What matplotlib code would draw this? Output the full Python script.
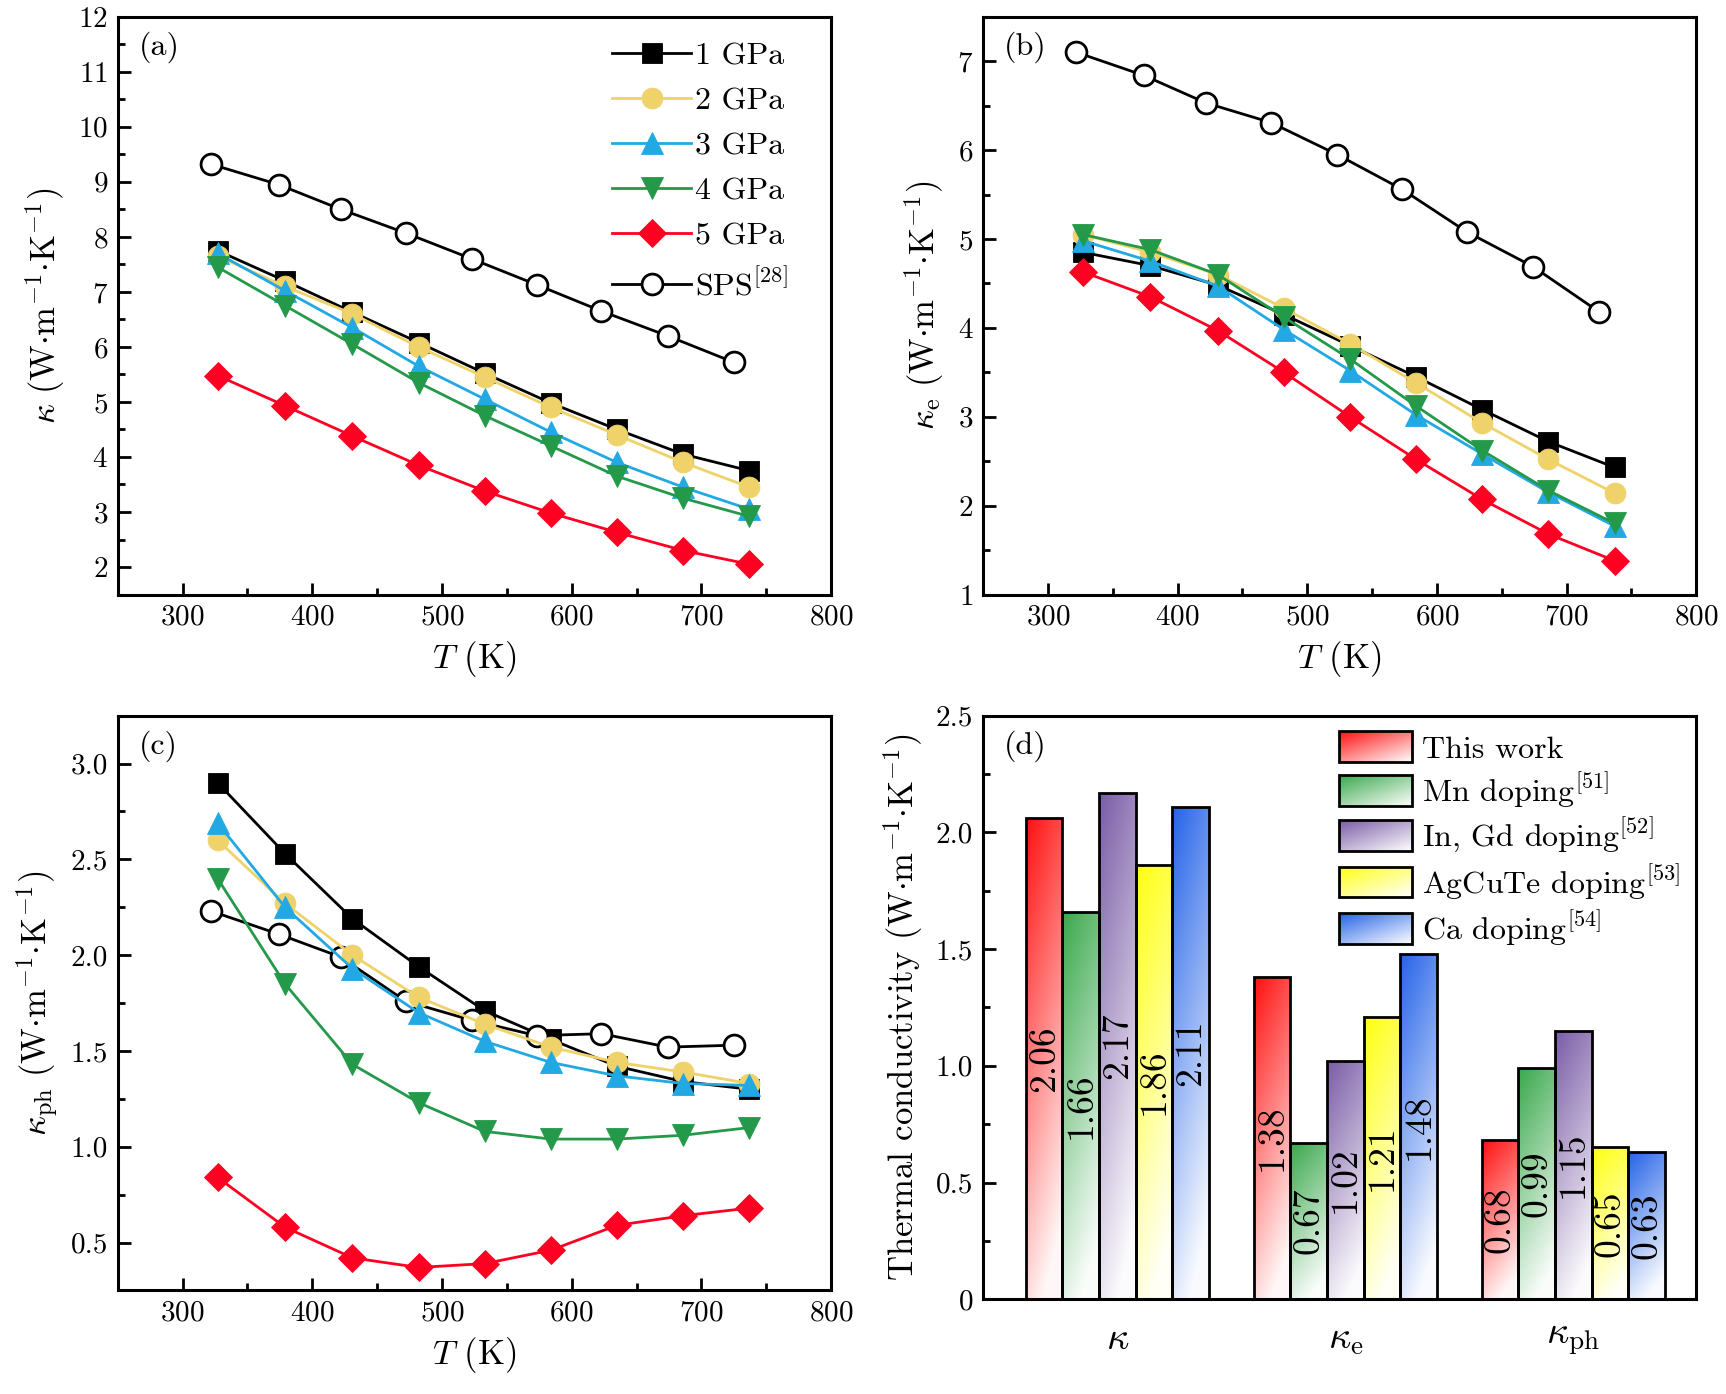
import numpy as np
import matplotlib
matplotlib.use("Agg")
import matplotlib.pyplot as plt
from matplotlib.legend_handler import HandlerBase
from matplotlib.image import BboxImage
from matplotlib.transforms import Bbox, TransformedBbox
from matplotlib.patches import Rectangle
from matplotlib.ticker import MultipleLocator, FuncFormatter

plt.rcParams["font.family"] = "serif"
plt.rcParams["font.serif"] = ["cmr10", "DejaVu Serif"]
plt.rcParams["mathtext.fontset"] = "cm"
plt.rcParams["axes.formatter.use_mathtext"] = True
plt.rcParams["axes.unicode_minus"] = False

# temperatures (K)
T_hp = [327, 379, 431, 482, 533, 584, 635, 686, 737]
T_sps = [322, 374, 422, 472, 523, 573, 623, 674, 725]

# (a) total kappa
ka_1 = [7.75, 7.2, 6.63, 6.08, 5.52, 4.98, 4.5, 4.05, 3.75]
ka_2 = [7.65, 7.1, 6.6, 6.0, 5.45, 4.9, 4.4, 3.9, 3.45]
ka_3 = [7.7, 7.02, 6.35, 5.65, 5.05, 4.45, 3.9, 3.45, 3.05]
ka_4 = [7.45, 6.75, 6.05, 5.35, 4.75, 4.2, 3.65, 3.25, 2.92]
ka_5 = [5.48, 4.93, 4.38, 3.85, 3.38, 2.98, 2.63, 2.3, 2.05]
ka_sps = [9.32, 8.95, 8.5, 8.07, 7.6, 7.13, 6.65, 6.2, 5.72]

# (b) electronic kappa
kb_1 = [4.85, 4.7, 4.48, 4.15, 3.8, 3.45, 3.08, 2.72, 2.43]
kb_2 = [5.05, 4.85, 4.6, 4.22, 3.82, 3.38, 2.93, 2.52, 2.14]
kb_3 = [4.98, 4.75, 4.47, 3.98, 3.52, 3.02, 2.58, 2.15, 1.77]
kb_4 = [5.05, 4.88, 4.6, 4.12, 3.65, 3.12, 2.62, 2.17, 1.8]
kb_5 = [4.63, 4.35, 3.97, 3.5, 3.0, 2.52, 2.07, 1.68, 1.38]
kb_sps = [7.1, 6.84, 6.53, 6.31, 5.95, 5.56, 5.08, 4.69, 4.18]

# (c) lattice kappa
kc_1 = [2.9, 2.53, 2.19, 1.94, 1.71, 1.56, 1.42, 1.34, 1.3]
kc_2 = [2.6, 2.27, 2.0, 1.78, 1.64, 1.52, 1.44, 1.39, 1.33]
kc_3 = [2.69, 2.25, 1.93, 1.7, 1.55, 1.44, 1.37, 1.33, 1.32]
kc_4 = [2.4, 1.85, 1.43, 1.23, 1.08, 1.04, 1.04, 1.06, 1.1]
kc_5 = [0.84, 0.58, 0.42, 0.37, 0.39, 0.46, 0.59, 0.64, 0.68]
kc_sps = [2.23, 2.11, 1.99, 1.76, 1.66, 1.58, 1.59, 1.52, 1.53]

# (d) comparison
groups = [r"$\kappa$", r"$\kappa_{\rm e}$", r"$\kappa_{\rm ph}$"]
works = ["This work", r"Mn doping$^{[51]}$", r"In, Gd doping$^{[52]}$",
         r"AgCuTe doping$^{[53]}$", r"Ca doping$^{[54]}$"]
vals_this = [2.06, 1.38, 0.68]
vals_mn = [1.66, 0.67, 0.99]
vals_ingd = [2.17, 1.02, 1.15]
vals_agcute = [1.86, 1.21, 0.65]
vals_ca = [2.11, 1.48, 0.63]

labels_p = ["1 GPa", "2 GPa", "3 GPa", "4 GPa", "5 GPa", r"SPS$^{[28]}$"]
colors_p = ["black", "#EFD26A", "#22A8E2", "#24994A", "#FF0022", "black"]
markers_p = ["s", "o", "^", "v", "D", "o"]
bar_colors = ["#FF1010", "#3AA84C", "#7A5CA6", "#FFFF10", "#2563E8"]

fig = plt.figure(figsize=(8.63, 6.97), dpi=200)
ax_a = fig.add_axes([0.0682, 0.5735, 0.4133, 0.4145])
ax_b = fig.add_axes([0.5695, 0.5735, 0.4133, 0.4145])
ax_c = fig.add_axes([0.0682, 0.0743, 0.4133, 0.4123])
ax_d = fig.add_axes([0.5695, 0.068, 0.4133, 0.4186])

lab_fs = 12.5
tick_fs = 10.5


def style(ax):
    ax.tick_params(which="both", direction="in", top=False, right=False,
                   labelsize=tick_fs, width=1.0)
    ax.tick_params(which="major", length=4.5)
    ax.tick_params(which="minor", length=2.5)
    for s in ax.spines.values():
        s.set_linewidth(1.1)


unit = r"\ (\mathrm{W{\cdot}m^{-1}{\cdot}K^{-1}})$"
msizes = {"s": 7.0, "o": 7.5, "^": 8.0, "v": 8.0, "D": 7.0}


def line_panel(ax, series, ylim, ymaj, ymin, ylabel, tag):
    for i, ys in enumerate(series):
        xs = T_sps if i == 5 else T_hp
        mfc = "white" if i == 5 else colors_p[i]
        ms = 7.5 if i == 5 else msizes[markers_p[i]]
        ax.plot(xs, ys, color=colors_p[i], marker=markers_p[i], ms=ms,
                mfc=mfc, mec=colors_p[i], mew=1.0 if i == 5 else 0.3,
                lw=1.0, label=labels_p[i], zorder=3 + i % 5)
    ax.set_xlim(250, 800)
    ax.set_ylim(*ylim)
    ax.xaxis.set_major_locator(MultipleLocator(100))
    ax.xaxis.set_minor_locator(MultipleLocator(50))
    ax.yaxis.set_major_locator(MultipleLocator(ymaj))
    ax.yaxis.set_minor_locator(MultipleLocator(ymin))
    ax.set_xlabel(r"$T$ (K)", fontsize=lab_fs, labelpad=3)
    ax.set_ylabel(ylabel, fontsize=lab_fs, labelpad=4)
    ax.text(0.03, 0.975, tag, transform=ax.transAxes, ha="left", va="top",
            fontsize=11.5)
    style(ax)


line_panel(ax_a, [ka_1, ka_2, ka_3, ka_4, ka_5, ka_sps], (1.5, 12), 1, 0.5,
           r"$\kappa" + unit, "(a)")
ax_a.legend(loc="upper right", frameon=False, fontsize=11.5, handlelength=2.5,
            handletextpad=0.1, labelspacing=0.52, borderaxespad=0.3,
            bbox_to_anchor=(0.97, 0.995))

line_panel(ax_b, [kb_1, kb_2, kb_3, kb_4, kb_5, kb_sps], (1, 7.5), 1, 0.5,
           r"$\kappa_{\rm e}" + unit, "(b)")

line_panel(ax_c, [kc_1, kc_2, kc_3, kc_4, kc_5, kc_sps], (0.25, 3.25), 0.5, 0.25,
           r"$\kappa_{\rm ph}" + unit, "(c)")
ax_c.yaxis.set_major_formatter(FuncFormatter(lambda v, p: f"{v:.1f}"))


def gradient(color, ny=120, nx=30, wy=0.85, wx=0.25):
    rgb = np.array(matplotlib.colors.to_rgb(color))
    yy, xx = np.mgrid[0:1:ny * 1j, 0:1:nx * 1j]
    f = np.clip(wy * (1 - yy) + wx * xx, 0, 0.97)
    img = rgb[None, None, :] * (1 - f[..., None]) + f[..., None]
    return img


class GradHandler(HandlerBase):
    def create_artists(self, legend, orig_handle, xdescent, ydescent,
                       width, height, fontsize, trans):
        bb = TransformedBbox(Bbox.from_bounds(-xdescent, -ydescent, width, height), trans)
        im = BboxImage(bb, interpolation="bilinear", origin="lower")
        im.set_data(gradient(orig_handle.get_facecolor(), wy=0.55, wx=0.45))
        rect = Rectangle((-xdescent, -ydescent), width, height, fc="none",
                         ec="black", lw=1.0, transform=trans)
        return [im, rect]


# (d)
all_vals = [vals_this, vals_mn, vals_ingd, vals_agcute, vals_ca]
bw = 0.161
xg = np.arange(len(groups))
handles = []
for k, vals in enumerate(all_vals):
    xpos = xg + (k - 2) * bw
    bars = ax_d.bar(xpos, vals, width=bw, facecolor="none", edgecolor="black",
                    lw=1.0, zorder=3)
    for b, v in zip(bars, vals):
        x0, w, h = b.get_x(), b.get_width(), b.get_height()
        im = ax_d.imshow(gradient(bar_colors[k]), extent=[x0, x0 + w, 0, h],
                         origin="lower", aspect="auto", interpolation="bilinear",
                         zorder=2)
        im.set_clip_path(b)
        ax_d.text(x0 + w / 2, h / 2, f"{v:.2f}", rotation=90, ha="center",
                  va="center", fontsize=13.5, zorder=4)
    handles.append(Rectangle((0, 0), 1, 1, facecolor=bar_colors[k]))

ax_d.set_xlim(-0.59, 2.54)
ax_d.set_ylim(0, 2.5)
ax_d.set_xticks(xg)
ax_d.yaxis.set_major_locator(MultipleLocator(0.5))
ax_d.yaxis.set_minor_locator(MultipleLocator(0.25))
ax_d.yaxis.set_major_formatter(FuncFormatter(lambda v, p: "0" if v == 0 else f"{v:.1f}"))
ax_d.set_ylabel(r"Thermal conductivity $(\mathrm{W{\cdot}m^{-1}{\cdot}K^{-1}})$",
                fontsize=lab_fs, labelpad=4)
ax_d.text(0.03, 0.975, "(d)", transform=ax_d.transAxes, ha="left", va="top",
          fontsize=11.5)
style(ax_d)
ax_d.set_xticklabels(groups, fontsize=14)
ax_d.tick_params(axis="x", length=0, pad=8)
ax_d.legend(handles, works, loc="upper right", frameon=False, fontsize=11.5,
            handler_map={Rectangle: GradHandler()}, handlelength=2.3,
            handleheight=1.1, handletextpad=0.3, labelspacing=0.2,
            borderaxespad=0.0, bbox_to_anchor=(0.995, 0.995))

fig.savefig("out.png", dpi=200)
